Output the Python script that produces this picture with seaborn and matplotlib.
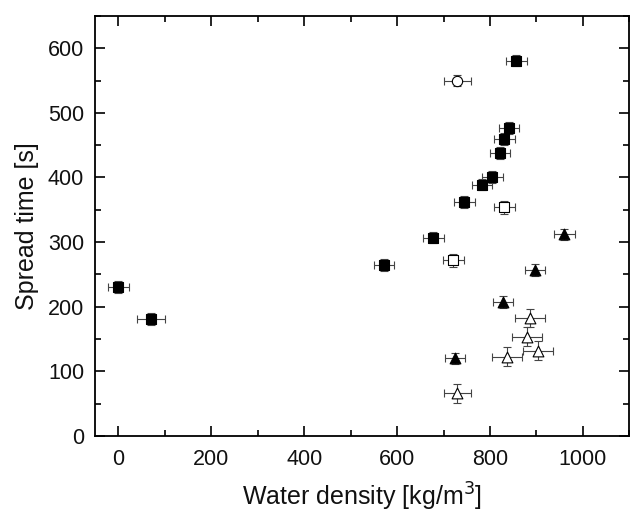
import matplotlib
matplotlib.use("Agg")
import matplotlib.pyplot as plt
import seaborn as sns
import pandas as pd
import numpy as np
from matplotlib.ticker import MultipleLocator

# Data
fsq_x = [0, 70, 572, 678, 745, 783, 805, 821, 831, 841, 857]
fsq_y = [231, 181, 265, 307, 362, 389, 401, 438, 460, 477, 581]
fsq_xerr = [22, 30, 22, 22, 22, 22, 22, 22, 22, 22, 22]
fsq_yerr = [9, 9, 9, 9, 9, 9, 9, 9, 9, 9, 9]

ocir_x = [730]
ocir_y = [550]
ocir_xerr = [29]
ocir_yerr = [9]

osq_x = [831, 721]
osq_y = [354, 272]
osq_xerr = [22, 22]
osq_yerr = [10, 10]

ftri_x = [960, 897, 828, 725]
ftri_y = [312, 257, 207, 120]
ftri_xerr = [22, 22, 22, 22]
ftri_yerr = [9, 9, 9, 9]

otri_x = [886, 880, 903, 837, 730]
otri_y = [183, 154, 132, 123, 66]
otri_xerr = [32, 32, 32, 32, 29]
otri_yerr = [14, 14, 15, 15, 15]

series = [
    ("fsq", fsq_x, fsq_y, fsq_xerr, fsq_yerr, "s", "black", 45),
    ("ocir", ocir_x, ocir_y, ocir_xerr, ocir_yerr, "o", "white", 55),
    ("osq", osq_x, osq_y, osq_xerr, osq_yerr, "s", "white", 45),
    ("ftri", ftri_x, ftri_y, ftri_xerr, ftri_yerr, "^", "black", 60),
    ("otri", otri_x, otri_y, otri_xerr, otri_yerr, "^", "white", 60),
]

sns.set_style("ticks")
plt.rcParams['font.family'] = ['Liberation Sans', 'DejaVu Sans']

fig = plt.figure(figsize=(6.3, 5.13), dpi=100)
ax = fig.add_axes([0.151, 0.150, 0.848, 0.819])

for name, x, y, xe, ye, m, fc, sz in series:
    ax.errorbar(x, y, xerr=xe, yerr=ye, fmt="none", ecolor="#444444",
                elinewidth=0.8, capsize=3, capthick=0.8, zorder=2)
    df = pd.DataFrame({"x": x, "y": y})
    sns.scatterplot(data=df, x="x", y="y", marker=m, s=sz, color=fc,
                    edgecolor="black", linewidth=0.8, ax=ax, zorder=3,
                    legend=False)

ax.set_xlim(-50, 1100)
ax.set_ylim(0, 650)
ax.xaxis.set_major_locator(MultipleLocator(200))
ax.xaxis.set_minor_locator(MultipleLocator(100))
ax.yaxis.set_major_locator(MultipleLocator(100))
ax.yaxis.set_minor_locator(MultipleLocator(50))
ax.tick_params(which="both", direction="in", top=True, right=True,
               labelsize=15.5, width=1.2, color="black", labelcolor="#111111")
ax.tick_params(which="major", length=7)
ax.tick_params(which="minor", length=4)
ax.tick_params(axis="x", which="major", pad=9)
ax.tick_params(axis="y", which="major", pad=8)
for sp in ax.spines.values():
    sp.set_linewidth(1.3)
    sp.set_color("black")

ax.set_xlabel("Water density [kg/m$^3$]", fontsize=18, labelpad=8, color="#111111")
ax.set_ylabel("Spread time [s]", fontsize=18, labelpad=6, color="#111111")

fig.savefig("out.png", dpi=100)
